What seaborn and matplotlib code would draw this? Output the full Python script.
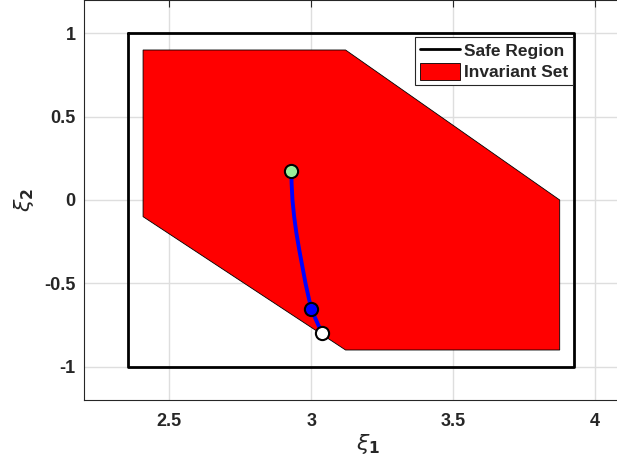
import numpy as np
import pandas as pd
import matplotlib
matplotlib.use("Agg")
import matplotlib.pyplot as plt
import seaborn as sns

# safe region box (x from 3pi/4 to 5pi/4)
safe_x = [2.356, 3.927, 3.927, 2.356, 2.356]
safe_y = [1.0, 1.0, -1.0, -1.0, 1.0]

# invariant set polygon
inv_x = [2.408, 3.121, 3.875, 3.875, 3.121, 2.408]
inv_y = [0.9, 0.9, 0.0, -0.9, -0.9, -0.1]

# trajectory
traj_x = [2.930, 2.931, 2.934, 2.940, 2.948, 2.958, 2.969, 2.980, 2.993, 3.001, 3.012, 3.025, 3.039]
traj_y = [0.172, 0.10, 0.0, -0.10, -0.20, -0.30, -0.40, -0.50, -0.60, -0.654, -0.70, -0.75, -0.796]

start_pt = (2.930, 0.172)
mid_pt = (3.001, -0.654)
end_pt = (3.039, -0.796)

xticks = [2.5, 3, 3.5, 4]
yticks = [-1, -0.5, 0, 0.5, 1]

sns.set_style("white")
plt.rcParams['font.family'] = ['Liberation Sans', 'DejaVu Sans']

fig = plt.figure(figsize=(6.17, 4.66), dpi=100)
ax = fig.add_axes([84 / 617, 66 / 466, 568 / 617, 400 / 466])

ax.fill(inv_x, inv_y, facecolor='red', edgecolor='black', linewidth=0.6, label='Invariant Set', zorder=2)
ax.plot(safe_x, safe_y, color='black', linewidth=2, label='Safe Region', zorder=3)

df = pd.DataFrame({'x': traj_x, 'y': traj_y})
sns.lineplot(data=df, x='x', y='y', sort=False, color='blue', linewidth=2.8, ax=ax, zorder=4, legend=False)

ax.plot(*mid_pt, 'o', markersize=9.5, markerfacecolor='blue', markeredgecolor='black', markeredgewidth=1.5, zorder=5)
ax.plot(*start_pt, 'o', markersize=9.5, markerfacecolor='#99ee99', markeredgecolor='black', markeredgewidth=1.5, zorder=5)
ax.plot(*end_pt, 'o', markersize=9.5, markerfacecolor='white', markeredgecolor='black', markeredgewidth=1.5, zorder=5)

ax.set_xlim(2.2, 4.2)
ax.set_ylim(-1.2, 1.2)
ax.set_xticks(xticks)
ax.set_xticklabels(['2.5', '3', '3.5', '4'])
ax.set_yticks(yticks)
ax.set_yticklabels(['-1', '-0.5', '0', '0.5', '1'])
ax.grid(True, color='#dedede', linewidth=1.0, zorder=0)
ax.set_axisbelow(True)
ax.tick_params(direction='in', length=5, width=0.8, color='#262626', top=True, right=True,
               labelsize=13, labelcolor='#262626')
ax.tick_params(axis='x', pad=9)
ax.tick_params(axis='y', pad=6)
for lab in ax.get_xticklabels() + ax.get_yticklabels():
    lab.set_fontweight('bold')
for sp in ax.spines.values():
    sp.set_color('#262626')
    sp.set_linewidth(0.8)

ax.set_xlabel(r'$\xi_\mathbf{1}$', fontsize=16, color='#262626', labelpad=2)
ax.set_ylabel(r'$\xi_\mathbf{2}$', fontsize=16, color='#262626', labelpad=6)

handles, labels = ax.get_legend_handles_labels()
order = [labels.index('Safe Region'), labels.index('Invariant Set')]
leg = ax.legend([handles[i] for i in order], [labels[i] for i in order],
                loc='upper right', bbox_to_anchor=(573 / 617, 1 - 37 / 466),
                bbox_transform=fig.transFigure, fancybox=False, framealpha=1,
                edgecolor='#262626', prop={'weight': 'bold', 'size': 12.5},
                handlelength=2.3, handleheight=1.1, handletextpad=0.2, borderpad=0.3,
                labelspacing=0.2, borderaxespad=0)
leg.get_frame().set_linewidth(0.8)

fig.savefig('out.png', dpi=100)
